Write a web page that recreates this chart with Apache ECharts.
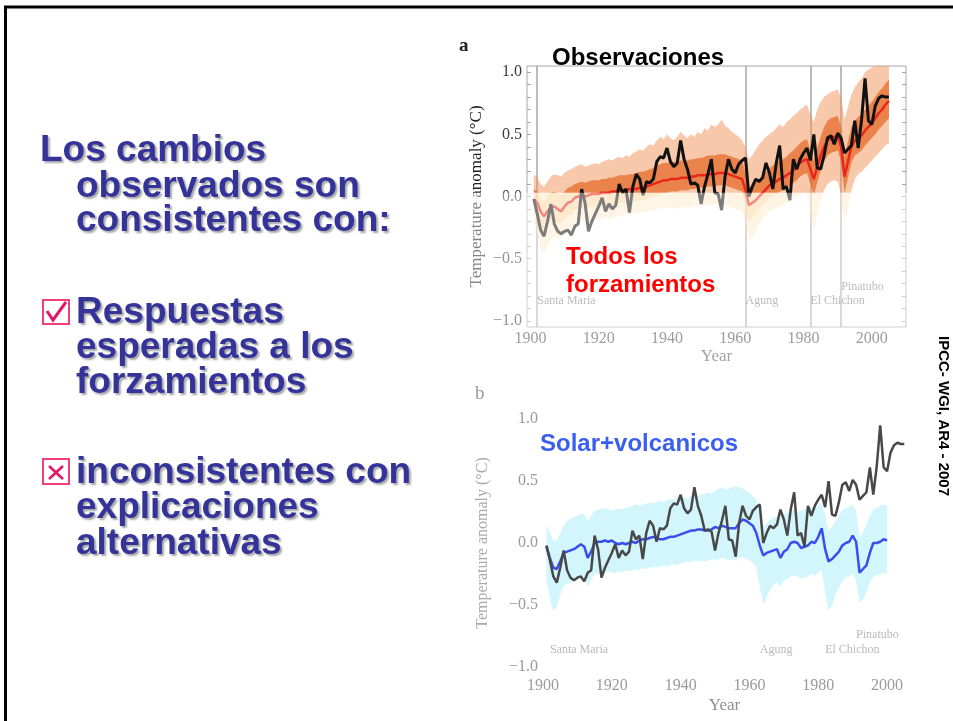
<!DOCTYPE html>
<html>
<head>
<meta charset="utf-8">
<script src="https://cdn.jsdelivr.net/npm/echarts@6/dist/echarts.min.js"></script>
<style>
  html, body { margin: 0; padding: 0; background: #fff; }
  #chart { width: 953px; height: 721px; }
</style>
</head>
<body>
<div id="chart"></div>
<script>
// ---- data -------------------------------------------------------------
const firstYear = 1901;

// observed global temperature anomaly (°C), 1901-2005
const observed = [
  -0.02, -0.14, -0.27, -0.32, -0.20, -0.06, -0.22, -0.28, -0.30, -0.28,
  -0.27, -0.31, -0.24, -0.22,  0.06, -0.05, -0.28, -0.20, -0.14, -0.08,
  -0.01, -0.12, -0.06, -0.10, -0.07,  0.10,  0.03,  0.06, -0.13,  0.08,
   0.18,  0.14,  0.01,  0.12,  0.11,  0.14,  0.28,  0.32,  0.31,  0.39,
   0.28,  0.24,  0.27,  0.45,  0.30,  0.22,  0.10,  0.11,  0.09, -0.06,
   0.08,  0.18,  0.30,  0.03,  0.02, -0.11,  0.16,  0.30,  0.22,  0.19,
   0.26,  0.29,  0.31,  0.00,  0.08,  0.14,  0.12,  0.15,  0.27,  0.19,
   0.06,  0.27,  0.41,  0.06,  0.08, -0.03,  0.30,  0.22,  0.30,  0.35,
   0.39,  0.29,  0.50,  0.23,  0.22,  0.33,  0.47,  0.49,  0.42,  0.51,
   0.47,  0.35,  0.38,  0.41,  0.61,  0.39,  0.62,  0.95,  0.61,  0.58,
   0.73,  0.79,  0.81,  0.80,  0.80
];

// all forcings: ensemble mean, 1901-2005
const allForcingMean = [
  -0.02, -0.05, -0.12, -0.16, -0.12, -0.09, -0.08, -0.10, -0.12, -0.08,
  -0.05, -0.04, -0.01,  0.00,  0.01,  0.00,  0.01,  0.02,  0.02,  0.02,
   0.03,  0.03,  0.03,  0.04,  0.04,  0.05,  0.05,  0.05,  0.06,  0.06,
   0.06,  0.07,  0.07,  0.08,  0.09,  0.10,  0.11,  0.12,  0.13,  0.13,
   0.14,  0.14,  0.14,  0.15,  0.15,  0.15,  0.16,  0.16,  0.17,  0.17,
   0.17,  0.18,  0.18,  0.18,  0.19,  0.19,  0.19,  0.18,  0.17,  0.16,
   0.15,  0.14,  0.05, -0.07, -0.05, -0.03,  0.00,  0.03,  0.06,  0.09,
   0.10,  0.12,  0.14,  0.15,  0.17,  0.19,  0.21,  0.24,  0.27,  0.29,
   0.30,  0.22,  0.14,  0.24,  0.33,  0.40,  0.45,  0.47,  0.48,  0.49,
   0.40,  0.16,  0.28,  0.40,  0.45,  0.47,  0.49,  0.53,  0.56,  0.59,
   0.63,  0.67,  0.70,  0.74,  0.77
];
// all forcings: full range of the ensemble members
const allForcingLow = [
  -0.20, -0.30, -0.42, -0.45, -0.40, -0.35, -0.32, -0.33, -0.34, -0.30,
  -0.27, -0.25, -0.22, -0.21, -0.20, -0.22, -0.20, -0.19, -0.18, -0.19,
  -0.18, -0.17, -0.18, -0.16, -0.17, -0.15, -0.16, -0.14, -0.15, -0.14,
  -0.13, -0.14, -0.12, -0.13, -0.11, -0.12, -0.10, -0.09, -0.10, -0.09,
  -0.08, -0.10, -0.09, -0.08, -0.09, -0.08, -0.09, -0.07, -0.08, -0.07,
  -0.08, -0.06, -0.07, -0.06, -0.07, -0.06, -0.07, -0.08, -0.09, -0.10,
  -0.11, -0.12, -0.22, -0.36, -0.33, -0.28, -0.22, -0.18, -0.15, -0.12,
  -0.11, -0.09, -0.08, -0.07, -0.05, -0.04, -0.02,  0.00,  0.02,  0.03,
   0.02, -0.12, -0.27, -0.15, -0.04,  0.05,  0.10,  0.12,  0.13,  0.12,
   0.02, -0.20, -0.10,  0.05,  0.14,  0.18,  0.20,  0.23,  0.26,  0.29,
   0.32,  0.35,  0.38,  0.41,  0.43
];
const allForcingHigh = [
   0.18,  0.15,  0.10,  0.08,  0.12,  0.16,  0.18,  0.17,  0.16,  0.19,
   0.21,  0.22,  0.24,  0.25,  0.26,  0.24,  0.25,  0.26,  0.27,  0.26,
   0.28,  0.29,  0.30,  0.29,  0.31,  0.32,  0.31,  0.33,  0.32,  0.35,
   0.36,  0.38,  0.37,  0.40,  0.42,  0.41,  0.45,  0.48,  0.46,  0.50,
   0.47,  0.45,  0.48,  0.52,  0.49,  0.47,  0.50,  0.48,  0.52,  0.50,
   0.55,  0.53,  0.58,  0.56,  0.58,  0.62,  0.57,  0.55,  0.52,  0.50,
   0.48,  0.45,  0.40,  0.30,  0.33,  0.38,  0.42,  0.45,  0.48,  0.50,
   0.52,  0.55,  0.58,  0.56,  0.60,  0.62,  0.65,  0.67,  0.70,  0.72,
   0.74,  0.66,  0.60,  0.70,  0.76,  0.80,  0.82,  0.84,  0.85,  0.86,
   0.80,  0.62,  0.72,  0.82,  0.88,  0.92,  0.95,  1.00,  1.02,  1.04,
   1.05,  1.05,  1.05,  1.05,  1.05
];
// all forcings: where most ensemble members lie
const allForcingCoreLow = [
  -0.10, -0.16, -0.25, -0.28, -0.24, -0.20, -0.19, -0.21, -0.22, -0.18,
  -0.15, -0.14, -0.11, -0.10, -0.09, -0.10, -0.09, -0.08, -0.08, -0.08,
  -0.07, -0.07, -0.07, -0.06, -0.06, -0.05, -0.05, -0.05, -0.04, -0.04,
  -0.04, -0.03, -0.03, -0.02, -0.01,  0.00,  0.01,  0.02,  0.03,  0.03,
   0.04,  0.04,  0.04,  0.05,  0.05,  0.05,  0.06,  0.06,  0.07,  0.07,
   0.07,  0.08,  0.08,  0.08,  0.09,  0.09,  0.09,  0.08,  0.07,  0.06,
   0.05,  0.04, -0.07, -0.20, -0.17, -0.14, -0.10, -0.07, -0.04, -0.01,
   0.00,  0.02,  0.04,  0.05,  0.07,  0.09,  0.11,  0.13,  0.16,  0.18,
   0.19,  0.10,  0.01,  0.11,  0.21,  0.28,  0.33,  0.35,  0.36,  0.37,
   0.28,  0.03,  0.15,  0.27,  0.33,  0.35,  0.37,  0.41,  0.44,  0.47,
   0.50,  0.54,  0.57,  0.60,  0.63
];
const allForcingCoreHigh = [
   0.06,  0.04, -0.01, -0.04,  0.00,  0.03,  0.04,  0.02,  0.01,  0.04,
   0.07,  0.08,  0.10,  0.11,  0.12,  0.11,  0.12,  0.13,  0.13,  0.13,
   0.14,  0.14,  0.15,  0.15,  0.16,  0.17,  0.17,  0.17,  0.18,  0.18,
   0.19,  0.20,  0.20,  0.21,  0.22,  0.23,  0.25,  0.26,  0.27,  0.27,
   0.28,  0.28,  0.28,  0.29,  0.29,  0.29,  0.30,  0.30,  0.31,  0.31,
   0.32,  0.33,  0.33,  0.33,  0.34,  0.34,  0.34,  0.33,  0.32,  0.31,
   0.30,  0.29,  0.19,  0.07,  0.09,  0.11,  0.14,  0.17,  0.20,  0.23,
   0.25,  0.27,  0.29,  0.30,  0.32,  0.35,  0.37,  0.40,  0.43,  0.45,
   0.46,  0.37,  0.29,  0.39,  0.48,  0.56,  0.61,  0.63,  0.64,  0.65,
   0.56,  0.32,  0.44,  0.56,  0.61,  0.64,  0.66,  0.70,  0.73,  0.76,
   0.80,  0.84,  0.87,  0.91,  0.94
];

// solar + volcanic only: ensemble mean and spread, 1901-2000
const naturalMean = [
  -0.03, -0.12, -0.20, -0.21, -0.15, -0.08, -0.07, -0.06, -0.05, -0.03,
  -0.01, -0.03, -0.12, -0.07,  0.00,  0.01,  0.01,  0.02,  0.01,  0.02,
   0.00, -0.01,  0.00, -0.01,  0.00,  0.01,  0.00,  0.02,  0.03,  0.03,
   0.04,  0.05,  0.04,  0.03,  0.03,  0.04,  0.05,  0.05,  0.06,  0.07,
   0.08,  0.09,  0.10,  0.10,  0.11,  0.11,  0.10,  0.10,  0.11,  0.13,
   0.12,  0.14,  0.13,  0.12,  0.12,  0.12,  0.16,  0.19,  0.18,  0.16,
   0.14,  0.08, -0.02, -0.10, -0.08, -0.07, -0.06, -0.05, -0.12, -0.07,
  -0.05,  0.00,  0.01,  0.00, -0.04, -0.03, -0.02,  0.01,  0.00,  0.05,
   0.12, -0.05, -0.15, -0.13, -0.10, -0.07, -0.02,  0.00,  0.01,  0.06,
   0.01, -0.24, -0.21, -0.18, -0.08,  0.00,  0.00,  0.01,  0.03,  0.02
];
const naturalLow = [
  -0.30, -0.45, -0.55, -0.52, -0.42, -0.35, -0.33, -0.32, -0.30, -0.28,
  -0.27, -0.28, -0.35, -0.30, -0.25, -0.25, -0.24, -0.24, -0.23, -0.24,
  -0.24, -0.23, -0.24, -0.22, -0.23, -0.22, -0.21, -0.22, -0.20, -0.21,
  -0.20, -0.19, -0.20, -0.19, -0.18, -0.19, -0.18, -0.17, -0.18, -0.16,
  -0.16, -0.15, -0.16, -0.14, -0.15, -0.14, -0.15, -0.14, -0.13, -0.14,
  -0.13, -0.12, -0.13, -0.14, -0.13, -0.14, -0.12, -0.11, -0.13, -0.14,
  -0.16, -0.20, -0.35, -0.50, -0.44, -0.38, -0.34, -0.32, -0.35, -0.30,
  -0.29, -0.27, -0.26, -0.27, -0.29, -0.28, -0.27, -0.25, -0.26, -0.24,
  -0.22, -0.40, -0.55, -0.50, -0.42, -0.36, -0.31, -0.28, -0.27, -0.25,
  -0.30, -0.48, -0.46, -0.40, -0.32, -0.27, -0.26, -0.25, -0.24, -0.25
];
const naturalHigh = [
   0.15,  0.08,  0.02,  0.02,  0.08,  0.14,  0.18,  0.20,  0.21,  0.22,
   0.24,  0.23,  0.18,  0.22,  0.26,  0.27,  0.28,  0.28,  0.27,  0.26,
   0.27,  0.28,  0.27,  0.28,  0.29,  0.30,  0.31,  0.30,  0.31,  0.32,
   0.33,  0.32,  0.33,  0.34,  0.33,  0.35,  0.36,  0.35,  0.37,  0.38,
   0.37,  0.36,  0.38,  0.40,  0.38,  0.39,  0.40,  0.41,  0.40,  0.42,
   0.44,  0.45,  0.43,  0.44,  0.45,  0.46,  0.45,  0.44,  0.42,  0.40,
   0.38,  0.35,  0.25,  0.14,  0.16,  0.19,  0.20,  0.22,  0.20,  0.23,
   0.25,  0.26,  0.27,  0.25,  0.26,  0.27,  0.28,  0.29,  0.28,  0.30,
   0.33,  0.22,  0.10,  0.13,  0.18,  0.22,  0.27,  0.28,  0.29,  0.31,
   0.26,  0.05,  0.08,  0.15,  0.22,  0.27,  0.28,  0.30,  0.31,  0.30
];

// major eruptions
const volcanoNames = ['Santa Maria', 'Agung', 'El Chichon', 'Pinatubo'];
const volcanoYears = [1902, 1963, 1982, 1991];

// axis ticks
const xTicks = [1900, 1920, 1940, 1960, 1980, 2000];
const yTicks = [-1.0, -0.5, 0.0, 0.5, 1.0];

// slide text
const headingLines = ['Los cambios', 'observados son', 'consistentes con:'];
const consistentLines = ['Respuestas', 'esperadas a los', 'forzamientos'];
const inconsistentLines = ['inconsistentes con', 'explicaciones', 'alternativas'];
const sourceNote = 'IPCC- WGI, AR4 - 2007';

// ---- helpers ----------------------------------------------------------
const SERIF = '"Liberation Serif", "DejaVu Serif", serif';
const SANS = '"Liberation Sans", Arial, sans-serif';
const FADE_LEVEL = 0.03;   // panel a is washed out below this anomaly level

function toPairs(values) {
  return values.map((v, i) => [firstYear + i, v]);
}

// Ensemble range drawn as one filled polygon between the low and high curves.
// When fadeColor is given, the part below FADE_LEVEL takes that paler colour.
function bandSeries(low, high, color, axisIdx, fadeColor) {
  return {
    type: 'custom', xAxisIndex: axisIdx.x, yAxisIndex: axisIdx.y,
    silent: true, z: 2,
    data: low.map((v, i) => [firstYear + i, v, high[i]]),
    encode: { x: 0, y: [1, 2] },
    renderItem: function (params, api) {
      if (params.dataIndex !== 0) return null;
      const upper = [], lower = [];
      for (let i = 0; i < low.length; i++) {
        upper.push(api.coord([firstYear + i, high[i]]));
        lower.push(api.coord([firstYear + i, low[i]]));
      }
      let fill = color;
      if (fadeColor) {
        const yCut = api.coord([firstYear, FADE_LEVEL])[1];
        fill = new echarts.graphic.LinearGradient(0, yCut - 0.5, 0, yCut + 0.5, [
          { offset: 0, color: color }, { offset: 1, color: fadeColor }
        ], true);
      }
      return {
        type: 'polygon',
        shape: { points: upper.concat(lower.reverse()) },
        style: { fill: fill, stroke: null }
      };
    }
  };
}
function fmtTick(v) {
  const s = Math.abs(v).toFixed(1);
  return v < 0 ? '\u2212' + s : s;
}
function fmtYear(v) {
  return String(Math.round(v));
}
function volcanoLabels(axisIdx, color, lowLevel, highLevel) {
  return {
    type: 'scatter', xAxisIndex: axisIdx.x, yAxisIndex: axisIdx.y,
    symbolSize: 0, silent: true, z: 5,
    data: volcanoNames.map((n, i) => ({
      name: n, value: [volcanoYears[i], i === 3 ? highLevel : lowLevel]
    })),
    label: {
      show: true, position: 'right', distance: 0, formatter: '{b}',
      fontFamily: SERIF, fontSize: 12, color: color
    }
  };
}
const minorTicks = [];
for (let t = -10; t <= 10; t++) minorTicks.push(t / 10);

// ---- chart ------------------------------------------------------------
const chart = echarts.init(document.getElementById('chart'), null, { renderer: 'canvas' });

const panelA = { x: 0, y: 0 };
const panelB = { x: 1, y: 2 };

const option = {
  animation: false,
  backgroundColor: '#ffffff',
  grid: [
    { left: 527, top: 66, width: 379, height: 261, show: true,
      borderColor: '#a8a8a8', borderWidth: 1, backgroundColor: 'transparent' },
    { left: 543, top: 413, width: 363, height: 260, show: false }
  ],
  xAxis: [
    { gridIndex: 0, type: 'value', min: 1899, max: 2010,
      axisLine: { show: false }, axisTick: { show: false }, splitLine: { show: false },
      axisLabel: { customValues: xTicks, formatter: fmtYear, margin: 4, color: '#4a4a4a',
                   fontFamily: SERIF, fontSize: 16 },
      name: 'Year', nameLocation: 'middle', nameGap: 21,
      nameTextStyle: { fontFamily: SERIF, fontSize: 17, color: '#555' } },
    { gridIndex: 1, type: 'value', min: 1900, max: 2005.5,
      axisLine: { show: false }, axisTick: { show: false }, splitLine: { show: false },
      axisLabel: { customValues: xTicks, formatter: fmtYear, margin: 5, color: '#9a9a9a',
                   fontFamily: SERIF, fontSize: 16 },
      name: 'Year', nameLocation: 'middle', nameGap: 24,
      nameTextStyle: { fontFamily: SERIF, fontSize: 17, color: '#8e8e8e' } }
  ],
  yAxis: [
    { gridIndex: 0, type: 'value', min: -1.05, max: 1.05,
      axisLine: { show: false }, splitLine: { show: false },
      axisTick: { show: true, inside: true, length: 4, customValues: minorTicks,
                  lineStyle: { color: '#a8a8a8' } },
      axisLabel: { customValues: yTicks, formatter: fmtTick, margin: 5,
                   color: '#3a3a3a', fontFamily: SERIF, fontSize: 16 },
      name: 'Temperature anomaly (°C)', nameLocation: 'middle', nameGap: 42,
      nameTextStyle: { fontFamily: SERIF, fontSize: 17, color: '#222' } },
    { gridIndex: 0, type: 'value', position: 'right', min: -1.05, max: 1.05,
      axisLine: { show: false }, splitLine: { show: false }, axisLabel: { show: false },
      axisTick: { show: true, inside: true, length: 4, customValues: minorTicks,
                  lineStyle: { color: '#a8a8a8' } } },
    { gridIndex: 1, type: 'value', min: -1.05, max: 1.05,
      axisLine: { show: false }, splitLine: { show: false }, axisTick: { show: false },
      axisLabel: { customValues: yTicks, formatter: fmtTick, margin: 5,
                   color: '#9a9a9a', fontFamily: SERIF, fontSize: 16 },
      name: 'Temperature anomaly (°C)', nameLocation: 'middle', nameGap: 52,
      nameTextStyle: { fontFamily: SERIF, fontSize: 16, color: '#aaaaaa' } }
  ],
  series: [
    // panel a: all forcings
    bandSeries(allForcingLow, allForcingHigh, 'rgba(242,146,88,0.5)', panelA,
               'rgba(253,214,150,0.45)'),
    bandSeries(allForcingCoreLow, allForcingCoreHigh, 'rgba(228,98,30,0.68)', panelA,
               'rgba(250,190,110,0.45)'),
    { type: 'line', name: 'allForcingMean', xAxisIndex: 0, yAxisIndex: 0,
      data: toPairs(allForcingMean), symbol: 'none', silent: true, z: 3,
      lineStyle: { color: '#e8261c', width: 2.5 },
      markLine: {
        silent: true, symbol: 'none', label: { show: false }, z: 1,
        lineStyle: { color: '#a4a4a4', width: 1.5, type: 'solid' },
        data: volcanoYears.map(y => ({ xAxis: y }))
      } },
    { type: 'line', name: 'observedA', xAxisIndex: 0, yAxisIndex: 0,
      data: toPairs(observed), symbol: 'none', silent: true, z: 4,
      lineStyle: { color: '#111111', width: 3 } },
    volcanoLabels(panelA, '#666', -0.84, -0.73),

    // panel b: solar + volcanic
    bandSeries(naturalLow, naturalHigh, 'rgba(150,234,248,0.42)', panelB),
    { type: 'line', name: 'naturalMean', xAxisIndex: 1, yAxisIndex: 2,
      data: toPairs(naturalMean), symbol: 'none', silent: true, z: 3,
      lineStyle: { color: '#3a4ef0', width: 2.5 } },
    { type: 'line', name: 'observedB', xAxisIndex: 1, yAxisIndex: 2,
      data: toPairs(observed), symbol: 'none', silent: true, z: 4,
      lineStyle: { color: '#484848', width: 2.5 } },
    volcanoLabels(panelB, '#a8a8a8', -0.86, -0.74)
  ]
};

chart.setOption(option);

// ---- slide decoration and annotations ---------------------------------
const shadow = {
  textShadowColor: 'rgba(0,0,0,0.35)', textShadowOffsetX: 2,
  textShadowOffsetY: 2, textShadowBlur: 2
};
function slideText(text, x, y) {
  return {
    type: 'text', x: x, y: y, z: 110, silent: true,
    style: Object.assign({
      text: text, font: 'bold 37px ' + SANS, fill: '#333399',
      textAlign: 'left', textVerticalAlign: 'middle', verticalAlign: 'middle'
    }, shadow)
  };
}
function label(text, x, y, font, fill, extra) {
  return Object.assign({
    type: 'text', x: x, y: y, z: 110, silent: true,
    style: { text: text, font: font, fill: fill, textAlign: 'left',
             textVerticalAlign: 'middle', verticalAlign: 'middle' }
  }, extra || {});
}

// the lower half of panel a is washed out
const fadeTop = chart.convertToPixel({ gridIndex: 0 }, [1950, FADE_LEVEL])[1];

const graphics = [
  // slide frame
  { type: 'polyline', z: 110, silent: true,
    shape: { points: [[5.5, 721], [5.5, 7], [953, 7]] },
    style: { stroke: '#000', lineWidth: 3, fill: null } },
  // fade over the lower part of panel a
  { type: 'rect', z: 100, silent: true,
    shape: { x: 440, y: fadeTop, width: 475, height: 372 - fadeTop },
    style: { fill: 'rgba(255,255,255,0.45)' } }
];

headingLines.forEach((t, i) => graphics.push(slideText(t, i === 0 ? 40 : 76, [151, 187, 221][i])));
consistentLines.forEach((t, i) => graphics.push(slideText(t, 76, [313, 348, 383][i])));
inconsistentLines.forEach((t, i) => graphics.push(slideText(t, 76, [473, 508, 544][i])));

// tick box and cross box
graphics.push(
  { type: 'rect', z: 110, silent: true, shape: { x: 43, y: 300, width: 26, height: 24 },
    style: { fill: '#fff', stroke: '#f0407a', lineWidth: 2 } },
  { type: 'polyline', z: 111, silent: true,
    shape: { points: [[47, 311], [53, 320], [66, 302]] },
    style: { stroke: '#e0186a', lineWidth: 3, fill: null } },
  { type: 'rect', z: 110, silent: true, shape: { x: 43, y: 459, width: 26, height: 25 },
    style: { fill: '#fff', stroke: '#f0407a', lineWidth: 2 } },
  { type: 'line', z: 111, silent: true, shape: { x1: 49, y1: 466, x2: 63, y2: 479 },
    style: { stroke: '#e0186a', lineWidth: 2.5 } },
  { type: 'line', z: 111, silent: true, shape: { x1: 63, y1: 466, x2: 49, y2: 479 },
    style: { stroke: '#e0186a', lineWidth: 2.5 } }
);

// panel captions and run labels
graphics.push(
  label('a', 459, 46, 'bold 19px ' + SERIF, '#222'),
  label('b', 475, 394, '19px ' + SERIF, '#9a9a9a'),
  label('Observaciones', 552, 58, 'bold 24px ' + SANS, '#000'),
  label('Todos los', 566, 257, 'bold 24px ' + SANS, '#ff0000'),
  label('forzamientos', 566, 285, 'bold 24px ' + SANS, '#ff0000'),
  label('Solar+volcanicos', 540, 444, 'bold 24px ' + SANS, '#3a5ef0')
);
const note = label(sourceNote, 943, 416, 'bold 15px ' + SANS, '#000', { rotation: -Math.PI / 2 });
note.style.textAlign = 'center';
graphics.push(note);

chart.setOption({ graphic: { elements: graphics } });
</script>
</body>
</html>
